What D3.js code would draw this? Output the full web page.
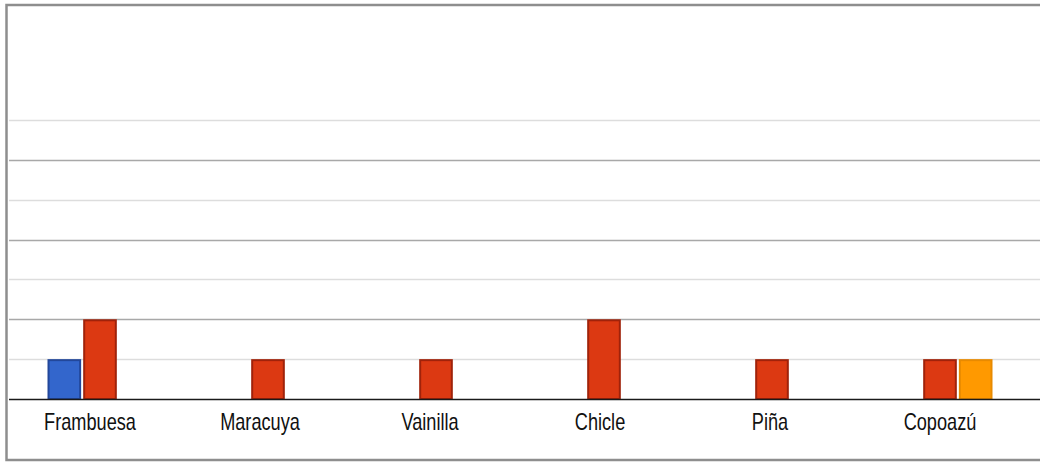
<!DOCTYPE html>
<html>
<head>
<meta charset="utf-8">
<script src="https://cdn.jsdelivr.net/npm/d3@7"></script>
<style>
  html, body { margin: 0; padding: 0; background: #fff; }
  svg { display: block; }
</style>
</head>
<body>
<svg id="chart" width="1040" height="462"></svg>
<script>
// Flavours along the x axis
const categories = ["Frambuesa", "Maracuya", "Vainilla", "Chicle", "Piña", "Copoazú"];
// Three series per flavour
const seriesNames = ["s1", "s2", "s3"];
const seriesA = [1, 0, 0, 0, 0, 0];
const seriesB = [2, 1, 1, 2, 1, 1];
const seriesC = [0, 0, 0, 0, 0, 1];
// Gridline values
const gridTicks = [1, 2, 3, 4, 5, 6, 7];

const fills = { s1: "#3366cc", s2: "#dc3912", s3: "#ff9900" };
const strokes = { s1: "#22479a", s2: "#a0220a", s3: "#e88a00" };

const svg = d3.select("#chart");
const plotLeft = 9, plotRight = 1040;
const baseY = 399, topY = 120;

const rows = categories.map((c, i) => ({
  cat: c,
  vals: [
    { key: "s1", v: seriesA[i] },
    { key: "s2", v: seriesB[i] },
    { key: "s3", v: seriesC[i] }
  ]
}));

const x = d3.scaleBand()
  .domain(categories)
  .range([16, 1024])
  .paddingInner(0.375)
  .paddingOuter(0.1875);

const xSub = d3.scaleBand()
  .domain(seriesNames)
  .range([0, x.bandwidth()])
  .paddingInner(0.057);

const xLabel = d3.scalePoint()
  .domain(categories)
  .range([90, 940]);

const y = d3.scaleLinear().domain([0, 7]).range([baseY, topY]);

// Frame
svg.append("rect")
  .attr("x", 6.5).attr("y", 5)
  .attr("width", 1060).attr("height", 455)
  .attr("fill", "#fff")
  .attr("stroke", "#8e8e8e")
  .attr("stroke-width", 2.5);

// Gridlines: even values drawn darker
svg.append("g").attr("class", "grid")
  .selectAll("line")
  .data(gridTicks)
  .join("line")
  .attr("x1", plotLeft).attr("x2", plotRight)
  .attr("y1", d => Math.round(y(d)) + 0.5)
  .attr("y2", d => Math.round(y(d)) + 0.5)
  .attr("stroke", d => d % 2 === 0 ? "#a8a8a8" : "#dddddd")
  .attr("stroke-width", 1.6);

// Bars
const groups = svg.append("g").selectAll("g")
  .data(rows)
  .join("g")
  .attr("transform", d => `translate(${x(d.cat)},0)`);

groups.selectAll("rect")
  .data(d => d.vals.filter(e => e.v > 0))
  .join("rect")
  .attr("x", d => xSub(d.key) + 1)
  .attr("width", xSub.bandwidth() - 2)
  .attr("y", d => y(d.v) + 1)
  .attr("height", d => y(0) - y(d.v) - 1)
  .attr("fill", d => fills[d.key])
  .attr("stroke", d => strokes[d.key])
  .attr("stroke-width", 2);

// Baseline
svg.append("line")
  .attr("x1", plotLeft).attr("x2", plotRight)
  .attr("y1", baseY + 0.5).attr("y2", baseY + 0.5)
  .attr("stroke", "#1a1a1a")
  .attr("stroke-width", 1.6);

// Category labels
svg.append("g").selectAll("text")
  .data(categories)
  .join("text")
  .attr("transform", d => `translate(${xLabel(d)},430) scale(0.79,1)`)
  .attr("text-anchor", "middle")
  .attr("font-family", "'Liberation Sans', Arial, sans-serif")
  .attr("font-size", 23)
  .attr("fill", "#111")
  .text(d => d);
</script>
</body>
</html>
